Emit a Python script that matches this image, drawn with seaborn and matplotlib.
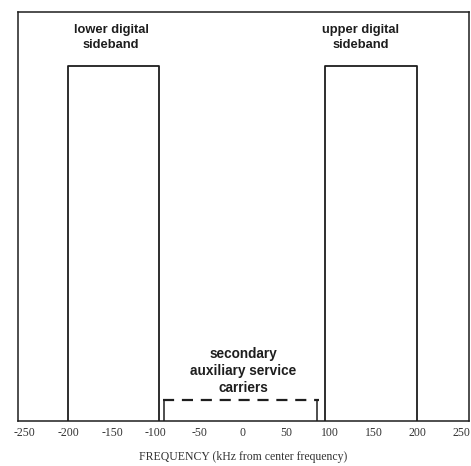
import numpy as np
import pandas as pd
import seaborn as sns
import matplotlib.pyplot as plt

# sideband edges in kHz from center frequency and their (relative) level
lower_band = [-200, -96]
upper_band = [94, 200]
band_level = 0.868
# secondary auxiliary service carriers
aux_band = [-92, 87]
aux_ticks = [-90, 85]
aux_level = 0.052
tick_vals = [-250, -200, -150, -100, -50, 0, 50, 100, 150, 200, 250]

sns.set_style("white")
plt.rcParams['font.family'] = ['Liberation Sans', 'DejaVu Sans']

fig = plt.figure(figsize=(4.71, 4.66), dpi=100)
ax = fig.add_axes([0.038, 0.0966, 0.9575, 0.878])

line_col = "#1e1e1e"


def box_frame(edges, level):
    return pd.DataFrame({"freq": [edges[0], edges[0], edges[1], edges[1]],
                         "level": [0, level, level, 0]})


for edges in [lower_band, upper_band]:
    sns.lineplot(data=box_frame(edges, band_level), x="freq", y="level",
                 sort=False, estimator=None, color=line_col, lw=1.3, ax=ax)

# dashed line for the auxiliary carriers
aux = pd.DataFrame({"freq": aux_band, "level": [aux_level, aux_level]})
sns.lineplot(data=aux, x="freq", y="level", sort=False, estimator=None,
             color=line_col, lw=1.6, linestyle=(0, (5, 3.5)), ax=ax)
for t in aux_ticks:
    tk = pd.DataFrame({"freq": [t, t], "level": [0, aux_level]})
    sns.lineplot(data=tk, x="freq", y="level", sort=False, estimator=None,
                 color=line_col, lw=1.1, ax=ax)

ax.set_xlim(-258, 259)
ax.set_ylim(0, 1)
ax.set_xticks(tick_vals)
ax.set_xticklabels([str(v) for v in tick_vals], family="Liberation Serif",
                   fontsize=8.5, color="#333333")
ax.tick_params(axis="x", length=0, pad=4)
ax.set_yticks([])
ax.set_ylabel("")
ax.set_xlabel("FREQUENCY (kHz from center frequency)", family="Liberation Serif",
              fontsize=8.5, color="#333333", labelpad=9)
for s in ax.spines.values():
    s.set_color(line_col)
    s.set_linewidth(1.1)

txt = dict(ha="center", va="center", fontweight="bold",
           color="#1e1e1e", linespacing=1.3)
ax.text(-151, 0.937, "lower digital\nsideband", fontsize=9.3, **txt)
ax.text(135, 0.937, "upper digital\nsideband", fontsize=9.3, **txt)
ax.text(0, 0.122, "secondary\nauxiliary service\ncarriers", fontsize=9.8, **txt)

fig.savefig("out.png", dpi=100, facecolor="white")
